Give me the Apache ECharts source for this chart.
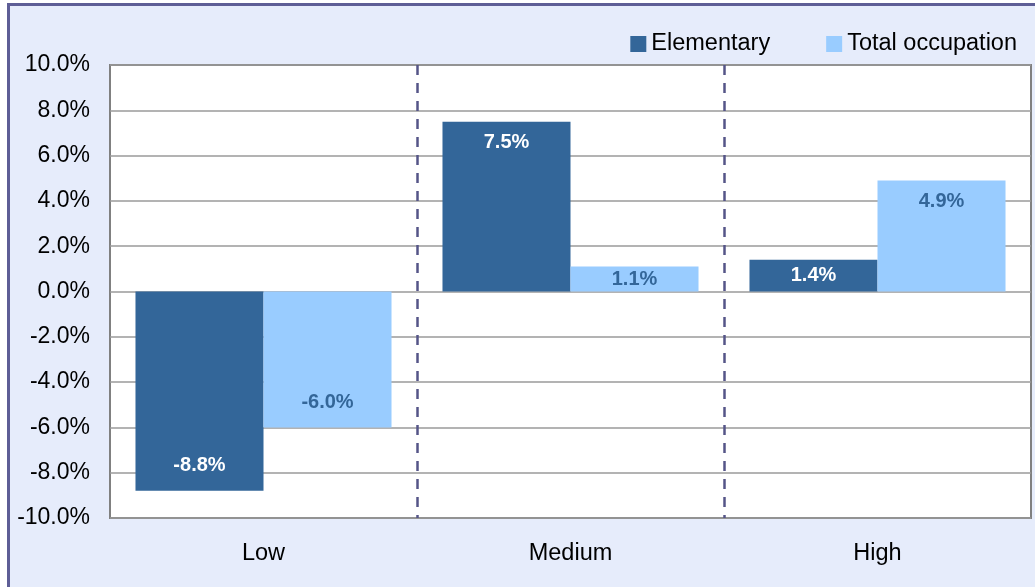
<!DOCTYPE html>
<html>
<head>
<meta charset="utf-8">
<script src="https://cdn.jsdelivr.net/npm/echarts@6/dist/echarts.min.js"></script>
<style>
  html, body { margin: 0; padding: 0; width: 1035px; height: 587px; overflow: hidden; background: #ffffff; }
  #frame { position: absolute; left: 7px; top: 3px; width: 1200px; height: 800px; background: #E6ECFB;
           border-left: 3px solid #5E5E96; border-top: 3px solid #5E5E96; }
  #chart { position: absolute; left: 0; top: 0; width: 1035px; height: 587px; }
</style>
</head>
<body>
<div id="frame"></div>
<div id="chart"></div>
<script>
const categories = ['Low', 'Medium', 'High'];
const elementary = [-8.8, 7.5, 1.4];
const totalOccupation = [-6.0, 1.1, 4.9];
const seriesNames = ['Elementary', 'Total occupation'];

const FONT = '"Liberation Sans", Arial, sans-serif';

function toData(values, labelColor) {
  return values.map(v => {
    const small = Math.abs(v) < 2;
    return {
      value: v,
      label: {
        show: true,
        position: small ? 'inside' : (v >= 0 ? 'insideTop' : 'insideBottom'),
        distance: v >= 0 ? 11 : 15,
        color: labelColor,
        fontWeight: 'bold',
        fontSize: 20,
        fontFamily: FONT,
        formatter: p => p.value.toFixed(1) + '%'
      }
    };
  });
}

const chart = echarts.init(document.getElementById('chart'));
chart.setOption({
  backgroundColor: 'transparent',
  textStyle: { fontFamily: FONT },
  animation: false,
  legend: {
    right: 13,
    top: 27,
    itemWidth: 16,
    itemHeight: 16,
    itemGap: 56,
    icon: 'rect',
    textStyle: { fontSize: 23.5, color: '#000', fontFamily: FONT },
    data: seriesNames
  },
  grid: {
    left: 110, top: 65, right: 4, bottom: 69,
    show: true,
    backgroundColor: '#ffffff',
    borderColor: '#808080',
    borderWidth: 2
  },
  xAxis: [
    {
      type: 'category',
      data: categories,
      axisLine: { show: false },
      axisTick: { show: false },
      axisLabel: { fontSize: 23.5, color: '#000', margin: 24, fontFamily: FONT },
      splitLine: { show: false }
    },
    {
      type: 'value',
      min: 0, max: 3, interval: 1,
      show: true,
      position: 'bottom',
      axisLine: { show: false },
      axisTick: { show: false },
      axisLabel: { show: false },
      splitLine: { show: true, showMinLine: false, showMaxLine: false,
        lineStyle: { color: '#555588', type: [10, 8], width: 2.5 } }
    }
  ],
  yAxis: {
    type: 'value',
    min: -10, max: 10, interval: 2,
    axisLine: { show: false },
    axisTick: { show: false },
    axisLabel: { fontSize: 23, color: '#000', margin: 20, fontFamily: FONT,
      formatter: v => v.toFixed(1) + '%' },
    splitLine: { show: true, lineStyle: { color: '#9A9A9A', width: 1.5 } }
  },
  series: [
    {
      name: seriesNames[0],
      type: 'bar',
      xAxisIndex: 0,
      barGap: '0%',
      barCategoryGap: '16.6%',
      itemStyle: { color: '#336699' },
      data: toData(elementary, '#ffffff'),
      z: 3
    },
    {
      name: seriesNames[1],
      type: 'bar',
      xAxisIndex: 0,
      barGap: '0%',
      barCategoryGap: '16.6%',
      itemStyle: { color: '#99CCFF' },
      data: toData(totalOccupation, '#336699'),
      z: 3
    }
  ]
});
</script>
</body>
</html>
